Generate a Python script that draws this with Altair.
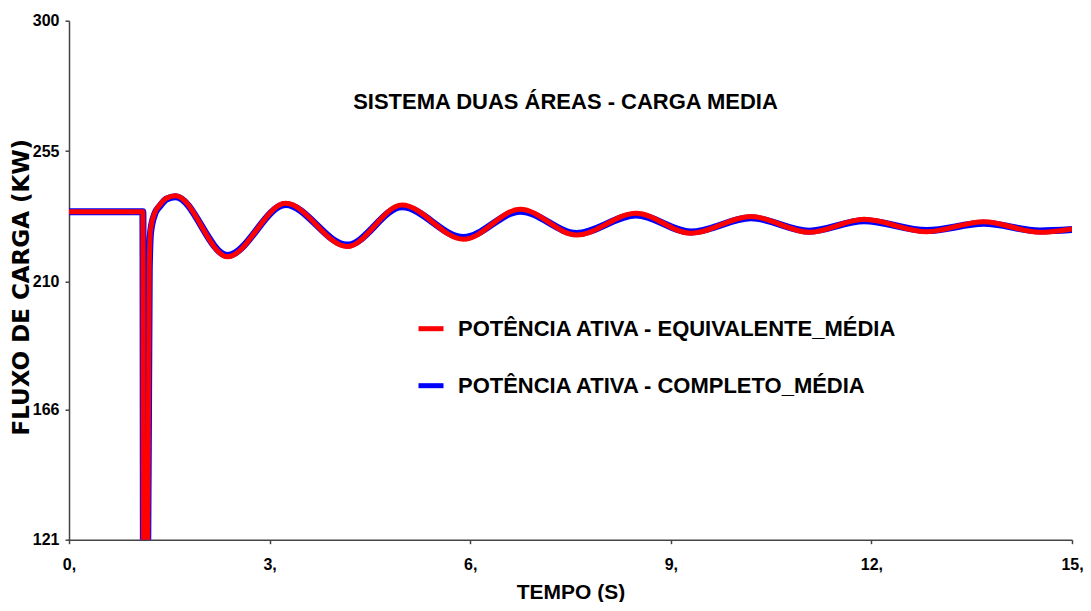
import altair as alt
import pandas as pd

# Time samples (s) (extrema and bends)
t_red = [0.0, 1.105, 1.115, 1.17, 1.2, 1.22, 1.28, 1.356, 1.456, 1.595, 2.37, 3.24,
         4.16, 4.98, 5.9, 6.75, 7.59, 8.48, 9.3, 10.2, 11.07, 11.89, 12.83, 13.68, 14.52, 15.0]
v_red = [234.1, 234.1, 90.0, 90.0, 215.0, 228.0, 233.6, 236.4, 238.8, 239.6, 218.6, 237.0,
         222.1, 236.4, 224.6, 235.0, 226.1, 233.6, 226.7, 232.5, 227.0, 231.5, 227.2, 230.7, 227.0, 228.2]

t_blue = [0.0, 1.105, 1.115, 1.17, 1.2, 1.22, 1.28, 1.356, 1.456, 1.595, 2.37, 3.24,
          4.16, 4.98, 5.9, 6.75, 7.59, 8.48, 9.3, 10.2, 11.07, 11.89, 12.83, 13.68, 14.52, 15.0]
v_blue = [234.1, 234.1, 90.0, 90.0, 214.0, 227.0, 233.2, 236.0, 238.5, 239.3, 219.0, 236.6,
          222.6, 235.8, 225.2, 234.3, 226.6, 233.0, 227.1, 232.0, 227.4, 231.0, 227.6, 230.1, 227.5, 228.0]

series_names = ["POTÊNCIA ATIVA - EQUIVALENTE_MÉDIA", "POTÊNCIA ATIVA - COMPLETO_MÉDIA"]
series_colors = ["#FF0000", "#0000FF"]

x_ticks = [0, 3, 6, 9, 12, 15]
y_ticks = [121, 166, 210, 255, 300]

df_red = pd.DataFrame({"t": t_red, "v": v_red, "s": series_names[0]})
df_blue = pd.DataFrame({"t": t_blue, "v": v_blue, "s": series_names[1]})

FONT = "Liberation Sans, Arial, sans-serif"

x_enc = alt.X("t:Q",
              scale=alt.Scale(domain=[0, 15], nice=False, zero=False),
              axis=alt.Axis(values=x_ticks, labelExpr="datum.value + ','",
                            title="TEMPO (S)", grid=False, labelPadding=13,
                            labelFlush=False, titlePadding=9))
y_enc = alt.Y("v:Q",
              scale=alt.Scale(domain=[121, 300], nice=False, zero=False),
              axis=alt.Axis(values=y_ticks, title="FLUXO DE CARGA (KW)", grid=False,
                            labelPadding=6, labelFlush=False,
                            titleFont="DejaVu Sans", titleFontSize=23,
                            titleAngle=270, titleX=-48, titleY=266,
                            titleAlign="center", titleBaseline="middle"))
color_enc = alt.Color("s:N",
                      scale=alt.Scale(domain=series_names, range=series_colors),
                      legend=alt.Legend(title=None, orient="none", legendX=347, legendY=293,
                                        symbolType="stroke", symbolSize=625,
                                        symbolStrokeWidth=5, labelFontSize=22,
                                        labelFont=FONT, labelFontWeight="bold",
                                        labelColor="black", labelOffset=12,
                                        rowPadding=31, padding=0, labelLimit=0))

blue = alt.Chart(df_blue).mark_line(interpolate="monotone", strokeWidth=7, clip=True).encode(
    x=x_enc, y=y_enc, color=color_enc)
red = alt.Chart(df_red).mark_line(interpolate="monotone", strokeWidth=5, clip=True).encode(
    x=x_enc, y=y_enc, color=color_enc)

chart = alt.layer(blue, red).properties(
    width=1003, height=519,
    title=alt.TitleParams("SISTEMA DUAS ÁREAS - CARGA MEDIA", anchor="middle",
                          font=FONT, fontSize=22, fontWeight="bold", color="black",
                          baseline="middle", dy=115, dx=-5),
    padding={"left": 61, "top": 12.7, "right": 11, "bottom": 62},
    autosize=alt.AutoSizeParams(type="none"),
).configure_view(stroke=None).configure_axis(
    domainColor="#444444", domainWidth=1.5, tickColor="#444444", tickWidth=1.5, tickSize=4,
    labelFont=FONT, labelFontSize=16, labelFontWeight="bold", labelColor="black",
    titleFont=FONT, titleFontSize=21, titleFontWeight="bold", titleColor="black",
)

chart.save("out.html", embed_options={"renderer": "svg", "actions": False})
